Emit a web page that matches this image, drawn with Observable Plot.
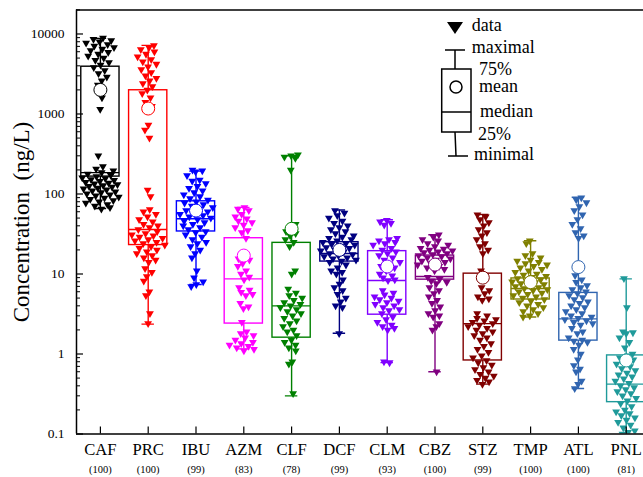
<!DOCTYPE html>
<html><head><meta charset="utf-8">
<script src="https://cdn.jsdelivr.net/npm/d3@7"></script>
<script src="https://cdn.jsdelivr.net/npm/@observablehq/plot@0.6"></script>
<style>html,body{margin:0;padding:0;background:#fff;}</style>
</head><body>
<script>
const categories = ["CAF","PRC","IBU","AZM","CLF","DCF","CLM","CBZ","STZ","TMP","ATL","PNL"];
const counts = [100,100,99,83,78,99,93,100,99,100,100,81];
const colors = ["#000000","#ff0000","#0000ff","#ff00ff","#008000","#000080","#8000ff","#800080","#800000","#808000","#3065b0","#1f9a9a"];

const q1      = [165, 23, 34, 2.4, 1.6, 14.3, 3.1, 8.5, 0.83, 4.8, 1.47, 0.25];
const median  = [185, 36, 49, 8.7, 4.0, 18, 8.3, 9.3, 2.4, 6.6, 2.75, 0.42];
const q3      = [3900, 1980, 81, 28, 24.5, 25, 19.3, 17, 10.1, 8.8, 5.8, 0.96];
const mean    = [2000, 1170, 62, 17, 36.7, 20, 12.4, 13.1, 9.0, 7.9, 12.2, 0.83];
const minimum = [66, 2.36, 7.4, 1.16, 0.30, 1.82, 0.78, 0.6, 0.42, 2.9, 0.37, 0.08];
const maximum = [8800, 7200, 193, 68, 300, 63, 47.6, 31, 55.5, 26, 91, 8.7];

const valuesCAF = [8900,8600,8300,8000,7700,7400,7100,6800,6500,6200,5900,5600,5300,5000,4700,4400,4100,3800,3500,3200,2900,2600,2300,1600,1150,300,220,205,195,185,178,172,166,160,156,152,148,144,140,137,134,131,128,125,122,119,116,113,110,107,104,101,98,95,92,89,86,83,80,77,74,71,68,65];
const valuesPRC = [7200,6800,6400,6000,5600,5200,4800,4500,4200,3900,3600,3300,3000,2800,2600,2400,2200,2000,1800,1600,1400,1250,730,630,500,112,93,64,60,56,52,48,45,42,40,38,36,34,32,31,30,29,28,27,26,25,24,23,22,21,20,19,18,17,16,15,14,11.7,10.5,9.3,8.2,6.0,5.4,3.2,2.4];
const valuesIBU = [200,195,190,170,150,145,135,125,118,110,104,98,93,88,84,80,77,74,71,68,65,62,60,58,56,54,52,50,48,46,44,42,40,38,36,34,33,31,29,27,25,24,22,20,18,16,11,9,8,7.4,7];
const valuesAZM = [68,65,62,56,52,49,46,44,41,38,35,33,28,16.5,15.5,15,13.5,12.5,11,10,9.2,8.5,6.8,6.3,5.9,5.6,5.4,4.3,3.9,3.7,2.5,1.9,1.8,1.7,1.6,1.5,1.4,1.35,1.3,1.25,1.2,1.15,1.1];
const valuesCLF = [310,300,290,280,200,42,38,34,32,30,27,25,22,11,10,6.5,5.8,5.4,5.0,4.7,4.4,4.2,4.0,3.8,3.6,3.4,3.2,3.0,2.8,2.6,2.4,2.2,2.0,1.9,1.7,1.5,1.4,1.3,1.2,1.1,0.8,0.75,0.32];
const valuesDCF = [62,58,54,50,46,43,40,38,36,34,32,30,29,28,27,26,25,24,23.5,23,22,21.5,21,20,19.5,19,18,17.5,17,16.5,16,15.5,15,14.5,14,13,12,11,10.5,10,8.5,7.5,6.8,6.2,5.6,5.0,4.5,4.0,3.8,1.8];
const valuesCLM = [47,45,43,41,28,27,26,25,24,23,21,20,19,18,17,16,15,14,13,12.5,12,11,10,9.5,9,8.5,8.3,6.2,5.8,5.5,5.2,5.0,4.8,4.6,4.4,4.2,4.0,3.8,3.6,3.5,3.2,2.9,2.7,2.5,2.3,2.2,2.1,2.0,0.8,0.78];
const valuesCBZ = [31,29,27,26,24,23,22,21,20.5,20,19.5,19,18.5,18,17.5,17,16.5,16,15.5,15,14.5,14,13.5,13,12.5,12,11.5,11,9.1,8.6,8.2,7.9,7.6,6.8,6.2,5.7,5.2,4.7,4.3,3.9,3.5,3.2,3.0,2.9,2.4,2.2,2.0,0.6];
const valuesSTZ = [55,52,48,44,40,36,33,30,27,24,22,20,18,11,9.2,6.8,6.2,5.7,5.2,4.9,4.7,3.2,3.0,2.8,2.7,2.6,2.5,2.4,2.3,2.2,2.1,2.0,1.9,1.8,1.7,1.6,1.5,1.35,1.25,1.15,1.05,0.95,0.9,0.83,0.78,0.73,0.68,0.64,0.6,0.56,0.53,0.5,0.47,0.45,0.42];
const valuesTMP = [26,24,18,17,16,15,14.5,14,13.5,13,12.5,12,11.5,11,10.5,10,9.7,9.4,9.1,8.8,8.5,8.2,8.0,7.8,7.6,7.4,7.2,7.0,6.8,6.6,6.4,6.2,6.0,5.8,5.6,5.4,5.2,5.0,4.8,4.6,4.4,4.2,4.0,3.8,3.6,3.4,3.2,3.0,2.9];
const valuesATL = [90,85,78,70,62,55,48,42,37,33,30,28,9.6,8.5,7.9,7.2,6.8,6.4,6.0,5.7,5.4,5.1,4.8,4.5,4.3,4.0,3.8,3.6,3.4,3.2,3.0,2.9,2.8,2.7,2.6,2.5,2.4,2.3,2.1,1.9,1.8,1.6,1.5,1.45,1.4,1.3,1.15,1.0,0.85,0.72,0.65,0.6,0.46,0.42,0.37];
const valuesPNL = [8.8,3.8,1.9,1.85,1.8,1.6,1.4,1.2,1.0,0.95,0.9,0.85,0.8,0.75,0.7,0.66,0.62,0.58,0.55,0.52,0.49,0.46,0.43,0.4,0.38,0.36,0.34,0.32,0.3,0.28,0.26,0.24,0.22,0.2,0.19,0.18,0.17,0.16,0.15,0.14,0.13,0.12,0.11,0.105,0.1];

const allValues = [valuesCAF,valuesPRC,valuesIBU,valuesAZM,valuesCLF,valuesDCF,valuesCLM,valuesCBZ,valuesSTZ,valuesTMP,valuesATL,valuesPNL];

const majorTicks = [0.1, 1, 10, 100, 1000, 10000];
const minorTicks = [];
for (const d of majorTicks) for (let m = 2; m <= 9; m++) { const t = d * m; if (t <= 20000) minorTicks.push(+t.toPrecision(6)); }

const stats = categories.map((name, i) => ({name, i, q1: q1[i], median: median[i], q3: q3[i], mean: mean[i], min: minimum[i], max: maximum[i]}));

// deterministic horizontal spread (denser regions spread wider)
const points = [];
allValues.forEach((vals, g) => {
  vals.forEach((v, k) => {
    const n = vals.filter(u => Math.abs(Math.log10(u / v)) < 0.07).length - 1;
    const spread = Math.min(0.39, 0.05 + 0.045 * n);
    const f = (((k + 1) * 0.6180339887 + g * 0.31) % 1);
    points.push({name: categories[g], pos: g + (f - 0.5) * 2 * spread, v});
  });
});

const xDomain = [-0.5, 11.5];
const yDomain = [0.1, 20000];
const half = 0.4, cap = 0.13;
const font = '"Liberation Serif", "Times New Roman", Times, serif';

const chart = Plot.plot({
  width: 643, height: 477,
  marginLeft: 76, marginRight: 0, marginTop: 9.4, marginBottom: 43.5,
  style: {fontFamily: font, background: "white", color: "black"},
  x: {type: "linear", domain: xDomain, range: [76, 649.6], axis: null},
  y: {type: "log", domain: yDomain, range: [433.5, 9.4], axis: null},
  color: {domain: categories, range: colors},
  marks: [
    Plot.ruleX(stats, {x: "i", y1: "q3", y2: "max", stroke: "name", strokeWidth: 1.4, clip: true}),
    Plot.ruleX(stats, {x: "i", y1: "min", y2: "q1", stroke: "name", strokeWidth: 1.4, clip: true}),
    Plot.ruleY(stats, {y: "max", x1: d => d.i - cap, x2: d => d.i + cap, stroke: "name", strokeWidth: 1.4, clip: true}),
    Plot.ruleY(stats, {y: "min", x1: d => d.i - cap, x2: d => d.i + cap, stroke: "name", strokeWidth: 1.4, clip: true}),
    Plot.rect(stats, {x1: d => d.i - half, x2: d => d.i + half, y1: "q1", y2: "q3", stroke: "name", fill: "none", strokeWidth: 1.4, clip: true}),
    Plot.ruleY(stats, {y: "median", x1: d => d.i - half, x2: d => d.i + half, stroke: "name", strokeWidth: 1.4, clip: true}),
    Plot.dot(points, {x: "pos", y: "v", symbol: "triangle", rotate: 180, r: 2.9, fill: "name", stroke: "none", clip: true}),
    Plot.dot(stats, {x: "i", y: "mean", r: 6.5, fill: "white", stroke: "name", strokeWidth: 1, clip: true}),
    Plot.ruleX([xDomain[0]], {stroke: "black", strokeWidth: 1.5}),
    Plot.ruleY([yDomain[0]], {stroke: "black", strokeWidth: 1.5}),
    Plot.ruleY([yDomain[1]], {stroke: "black", strokeWidth: 1.5}),
    Plot.axisY(majorTicks, {anchor: "left", tickSize: -7, tickFormat: () => "", label: null, strokeWidth: 1.2}),
    Plot.axisY(minorTicks, {anchor: "left", tickSize: -4, tickFormat: () => "", label: null, strokeWidth: 1}),
    Plot.axisY(majorTicks, {anchor: "left", tickSize: 0, tickPadding: 12, tickFormat: d => String(d), label: null, fontSize: 13.5}),
    Plot.axisX(d3.range(categories.length), {anchor: "bottom", tickSize: -7, tickFormat: () => "", label: null, strokeWidth: 1.2}),
    Plot.axisX(d3.range(categories.length), {anchor: "bottom", tickSize: 0, tickPadding: 9, tickFormat: i => categories[i], label: null, fontSize: 16.6}),
    Plot.axisX(d3.range(categories.length), {anchor: "bottom", tickSize: 0, tickPadding: 32, tickFormat: i => `(${counts[i]})`, label: null, fontSize: 10.5})
  ]
});

document.body.appendChild(chart);

const svg = d3.select(chart);
svg.append("text")
  .attr("transform", "translate(29,222) rotate(-90)")
  .attr("text-anchor", "middle")
  .attr("font-family", font).attr("font-size", 23).attr("fill", "black")
  .text("Concentration  (ng/L)");

const lg = svg.append("g").attr("fill", "none").attr("stroke", "black").attr("stroke-width", 1.5);
lg.append("path").attr("d", "M447,22L463,22L455,34Z").attr("fill", "black").attr("stroke", "none");
lg.append("path").attr("d", "M445,50L465,50M455,50L455,69M455,132L456,156M448,156L468,156");
lg.append("rect").attr("x", 441.7).attr("y", 69).attr("width", 29.3).attr("height", 63);
lg.append("line").attr("x1", 441.7).attr("x2", 471).attr("y1", 112).attr("y2", 112);
lg.append("circle").attr("cx", 456).attr("cy", 87).attr("r", 6);
const legendText = [["data", 471.7, 31], ["maximal", 471.7, 53], ["75%", 479, 75], ["mean", 479, 91.7], ["median", 480, 116.5], ["25%", 478, 140], ["minimal", 474, 160]];
const lt = svg.append("g").attr("font-family", font).attr("font-size", 18).attr("fill", "black").attr("text-anchor", "start");
for (const [t, x, y] of legendText) {
  lt.append("text").attr("x", x).attr("y", y).attr("text-anchor", "start").text(t);
}
</script>
</body></html>
